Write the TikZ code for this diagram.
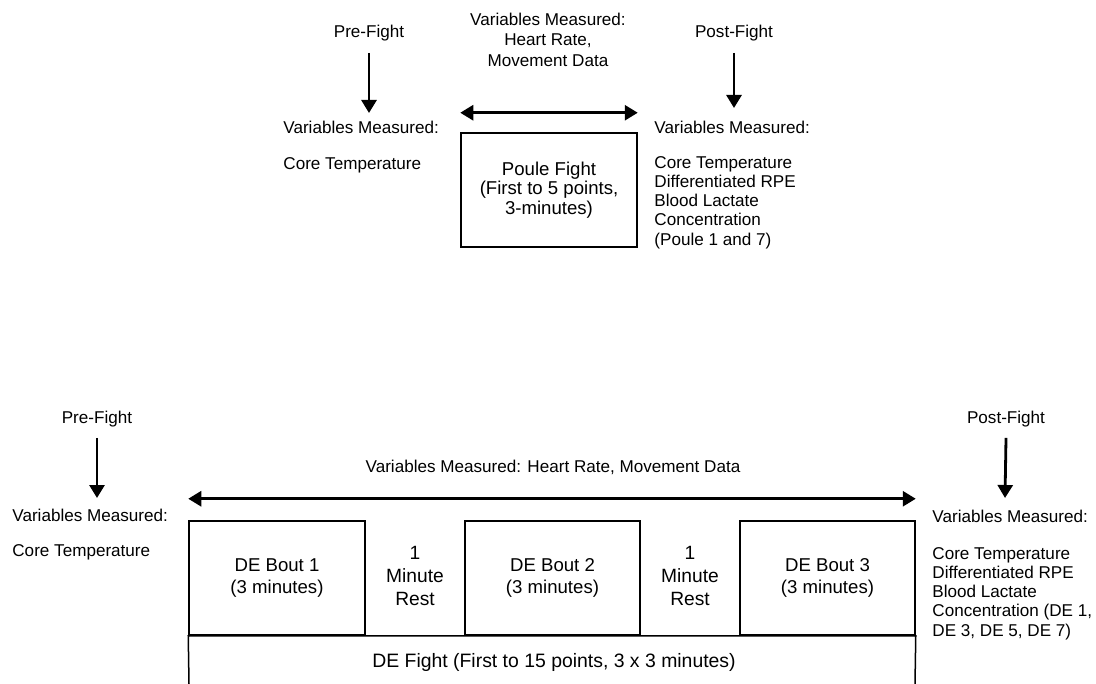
\documentclass[tikz,border=0pt]{standalone}
\usepackage{fontspec}
\setmainfont{Liberation Sans}
\usetikzlibrary{arrows.meta}
\begin{document}
\begin{tikzpicture}[x=0.5pt,y=-0.5pt,
  txt/.style={inner sep=0pt, font=\fontsize{8.55}{9.6}\selectfont},
  ltxt/.style={txt, align=left, anchor=north west},
  ctxt/.style={txt, align=center},
  arr/.style={line width=1.4pt, -{Triangle[length=6.5pt,width=7.5pt]}},
  darr/.style={line width=1.4pt, {Triangle[length=6.5pt,width=7.5pt]}-{Triangle[length=6.5pt,width=7.5pt]}},
  boxs/.style={draw, line width=0.75pt, minimum width=88pt, minimum height=57pt, inner sep=0pt, align=center, font=\fontsize{9.3}{11}\selectfont},
  pbox/.style={boxs, font=\fontsize{9.3}{9.8}\selectfont},
  rest/.style={inner sep=0pt, align=center, font=\fontsize{9.6}{11.5}\selectfont},
  frame/.style={line width=0.75pt},
]
\useasboundingbox (0,0) rectangle (1096,684);

% ---------------- Top: Poule fight ----------------
\node[ctxt, anchor=base] (pre1) at (369,38) {Pre-Fight};
\coordinate (pre1e) at (369,113);
\node[txt, anchor=base west] (var1) at (283,134) {Variables Measured:};
\node[ltxt] (core1) at (283,157) {Core Temperature};
\draw[arr] ([yshift=-5.5pt]pre1.south) -- (pre1e);

\node[ctxt, anchor=north] (hr1) at (548,13) {Variables Measured:\\[0.5pt]Heart Rate,\\[0.5pt]Movement Data};
\node[pbox, minimum width=88pt] (poule) at (549,190) {Poule Fight\\(First to 5 points,\\3-minutes)};
\draw[darr] ([yshift=9.75pt]poule.north west) -- ([yshift=9.75pt]poule.north east);

\node[ctxt, anchor=base] (post1) at (734,38) {Post-Fight};
\coordinate (post1e) at (734,108);
\draw[arr] ([yshift=-5.5pt]post1.south) -- (post1e);
\node[txt, anchor=base west] (var2) at (654,134) {Variables Measured:};
\node[ltxt] (list2) at (654,156) {Core Temperature\\Differentiated RPE\\Blood Lactate\\Concentration\\(Poule 1 and 7)};

% ---------------- Bottom: DE fight ----------------
\node[ctxt, anchor=base] (pre2) at (97,423) {Pre-Fight};
\coordinate (pre2e) at (97,498);
\draw[arr] ([yshift=-5.5pt]pre2.south) -- (pre2e);
\node[txt, anchor=base west] (var3) at (12,521) {Variables Measured:};
\node[ltxt] (core3) at (12,544) {Core Temperature};

\node[ctxt, anchor=base] (hr2) at (553,472) {Variables Measured: Heart Rate, Movement Data};

\node[boxs] (de1) at (277,578) {DE Bout 1\\(3 minutes)};
\node[rest] (rest1) at (415,576) {1\\Minute\\Rest};
\node[boxs, minimum width=87.5pt] (de2) at (552.5,578) {DE Bout 2\\(3 minutes)};
\node[rest] (rest2) at (690,576) {1\\Minute\\Rest};
\node[boxs, minimum width=87.5pt] (de3) at (827.5,578) {DE Bout 3\\(3 minutes)};

\draw[darr] ([yshift=10.75pt]de1.north west) -- ([yshift=10.75pt]de3.north east);

\coordinate (fl) at (189,684);
\coordinate (fr) at (915,684);
\draw[frame] (fl) -- (de1.south west) -- (de3.south east) -- (fr);
\node[inner sep=0pt, anchor=base, font=\fontsize{9.7}{11}\selectfont] (defight) at (554,667) {DE Fight (First to 15 points, 3 x 3 minutes)};

\node[ctxt, anchor=base] (post2) at (1006,423) {Post-Fight};
\coordinate (post2e) at (1005,498);
\draw[arr] ([yshift=-5.5pt]post2.south) -- (post2e);
\node[txt, anchor=base west] (var4) at (932,522) {Variables Measured:};
\node[ltxt] (list4) at (932,547) {Core Temperature\\Differentiated RPE\\Blood Lactate\\Concentration (DE 1,\\DE 3, DE 5, DE 7)};
\end{tikzpicture}
\end{document}
